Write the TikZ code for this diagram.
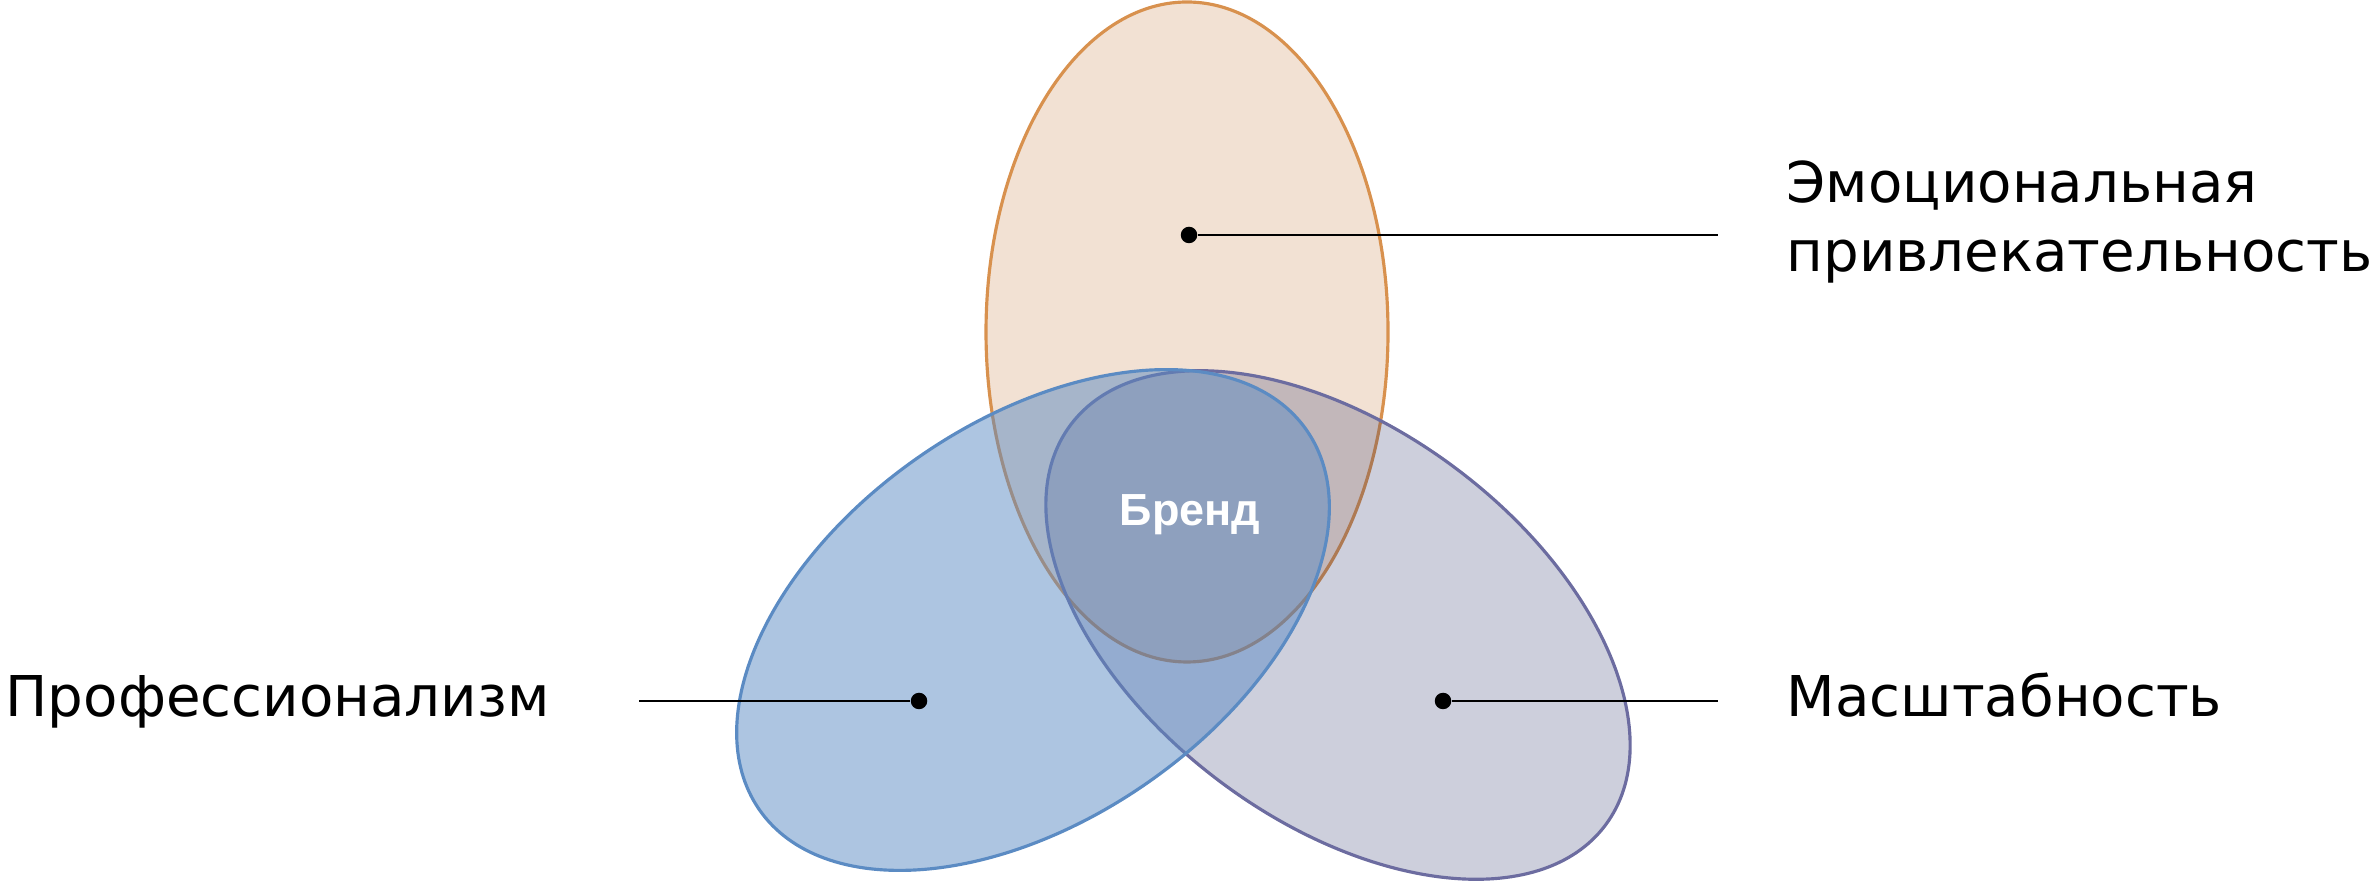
\documentclass[tikz,border=0pt]{standalone}
\usepackage{fontspec}
\setmainfont{DejaVu Sans}
\newfontfamily\brandfont{Liberation Sans}
\usepackage{tikz}
\definecolor{peachfill}{HTML}{F2E1D3}
\definecolor{peachline}{HTML}{D8914E}
\definecolor{bluefill}{HTML}{5B8BC3}
\definecolor{blueline}{HTML}{5B8BC3}
\definecolor{navyfill}{HTML}{262E67}
\definecolor{navyline}{HTML}{6C6CA0}
\tikzset{
	petal/.style={line width=0.9pt},
	pin/.style={circle, fill=black, inner sep=0pt, minimum size=1.65mm},
	leader/.style={line width=0.55pt},
	caption/.style={inner sep=0pt, font=\fontsize{16}{19.4}\selectfont}
}

\begin{document}
\begin{tikzpicture}
			%%%%% START %%%%%
			
			\useasboundingbox (0, 0) rectangle (23.74, 8.81);
			
			\draw[petal, fill=peachfill, draw=peachline] (11.87, 5.49) ellipse (2.01 and 3.30);
			\draw[petal, fill=navyfill, fill opacity=0.23, draw=navyline, rotate around={-36.8:(13.38, 2.56)}] (13.38, 2.56) ellipse (3.34 and 1.96);
			\draw[petal, fill=bluefill, fill opacity=0.5, draw=blueline, rotate around={34.7:(10.33, 2.61)}] (10.33, 2.61) ellipse (3.33 and 1.99);
			
			\node[font=\brandfont\bfseries\fontsize{12.8}{15}\selectfont, text=white, inner sep=0pt, anchor=base] (brand) at (11.90, 3.55) {Бренд};
			
			\node[pin] (emodot) at (11.89, 6.46) {};
			\node[pin] (profdot) at (9.19, 1.80) {};
			\node[pin] (scaledot) at (14.43, 1.80) {};
			
			\coordinate (emoend) at (17.18, 6.46);
			\coordinate (profend) at (6.39, 1.80);
			\coordinate (scaleend) at (17.18, 1.80);
			
			\draw[leader] (emodot) -- (emoend);
			\draw[leader] (profend) -- (profdot);
			\draw[leader] (scaledot) -- (scaleend);
			
			\node[caption, anchor=west, align=left] (emo) at (17.86, 6.59) {Эмоциональная\\привлекательность};
			\node[caption, anchor=base west] (prof) at (0.05, 1.64) {Профессионализм};
			\node[caption, anchor=base west] (scale) at (17.86, 1.64) {Масштабность};
			
			%%%%% END %%%%%
\end{tikzpicture}
\end{document}
